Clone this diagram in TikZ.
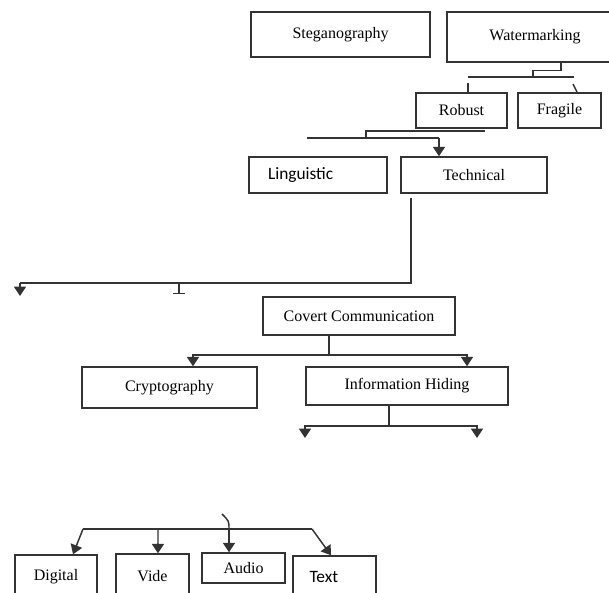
\documentclass[tikz,border=0pt]{standalone}
\usepackage{fontspec}
\setmainfont{Liberation Serif}
\newfontfamily\calfont{Carlito}
\usetikzlibrary{arrows.meta}

\begin{document}
\begin{tikzpicture}[x=0.75pt,y=-0.75pt,
		box/.style={draw=black!80, line width=1.1pt, rectangle, inner sep=0pt, font=\fontsize{12}{14}\selectfont},
		size/.style 2 args={minimum width=#1*0.75pt, minimum height=#2*0.75pt},
		link/.style={draw=black!80, line width=1.1pt},
		arr/.style={link, -{Triangle[width=9pt,length=7pt]}}]
		\useasboundingbox (0,0) rectangle (609,592);
		\clip (0,0) rectangle (609,592);

		% boxes
		\node[box, size={179}{45}] (stego) at (340.5,34.5) {Steganography};
		\node[box, size={176}{50}] (water) at (535,37) {Watermarking};
		\node[box, size={91}{35}] (robust) at (461.5,110.5) {Robust};
		\node[box, size={83}{35}] (fragile) at (559.5,110.5) {Fragile};
		\node[box, size={138}{36}, text width=75pt, inner xsep=14.25pt, align=left,
			font=\calfont\fontsize{13}{15}\selectfont] (ling) at (318,175) {Linguistic};
		\node[box, size={146}{36}] (tech) at (474,175) {Technical};
		\node[box, size={192}{38}] (covert) at (359,316) {Covert Communication};
		\node[box, size={175}{41}] (crypto) at (169.5,387.5) {Cryptography};
		\node[box, size={202}{38}] (infohide) at (407,386) {Information Hiding};
		\node[box, size={82}{43}] (digital) at (56,576.5) {Digital};
		\node[box, size={73}{44}] (vide) at (152.5,576) {Vide};
		\node[box, size={83}{30}] (audio) at (243.5,568) {Audio};
		\node[box, size={83}{42}, text width=37.5pt, inner xsep=12.4pt, align=left,
			font=\calfont\fontsize{13}{15}\selectfont] (text) at (334.5,577) {Text};

		% watermarking branch
		\coordinate (wsplit) at (533,77);
		\draw[link] ([xshift=19.5pt]water.south) -- ++(0,8) -| (wsplit);
		\draw[link] (468,77) -- (574,77);
		\draw[link] (468,83) -- (468,92);
		\draw[link] (573,84) -- (577,92);

		% robust branch
		\coordinate (rsplit) at (366,138);
		\coordinate (tdrop) at (439,138);
		\draw[link] (485,131) -| (rsplit);
		\draw[link] (307,138) -- (tdrop);
		\draw[arr] (tdrop) -- (tdrop |- tech.north);

		% technical branch
		\coordinate (tcorner) at (411,283);
		\draw[link] ([yshift=-3pt]tech.south -| tcorner) -- (tcorner) -- (20,283);
		\draw[arr] (20,283) -- (20,296);
		\draw[link, -{Bar[width=9pt]}] (179,283) -- (179,294);

		% covert communication
		\coordinate (cjoin) at (329,355);
		\draw[link] (cjoin |- covert.south) -- (cjoin);
		\draw[arr] (cjoin) -| ([xshift=17.6pt]crypto.north);
		\draw[arr] (cjoin) -| ([xshift=45pt]infohide.north);

		% information hiding
		\coordinate (ijoin) at (389,426);
		\draw[link] (ijoin |- infohide.south) -- (ijoin);
		\draw[arr] (ijoin) -| (305,438);
		\draw[arr] (ijoin) -| (477,438);

		% media
		\coordinate (mjoin) at (229,529);
		\draw[link] (222,514) .. controls (229,521) .. (mjoin);
		\draw[arr] (mjoin) -- (mjoin |- audio.north);
		\draw[link] (83,529) -- (312,529);
		\draw[arr] (83,529) -- ([xshift=12.75pt]digital.north);
		\draw[arr] (158,529) -- ([xshift=4.1pt]vide.north);
		\draw[arr] (312,529) -- ([xshift=-2.6pt]text.north);
	\end{tikzpicture}
\end{document}
